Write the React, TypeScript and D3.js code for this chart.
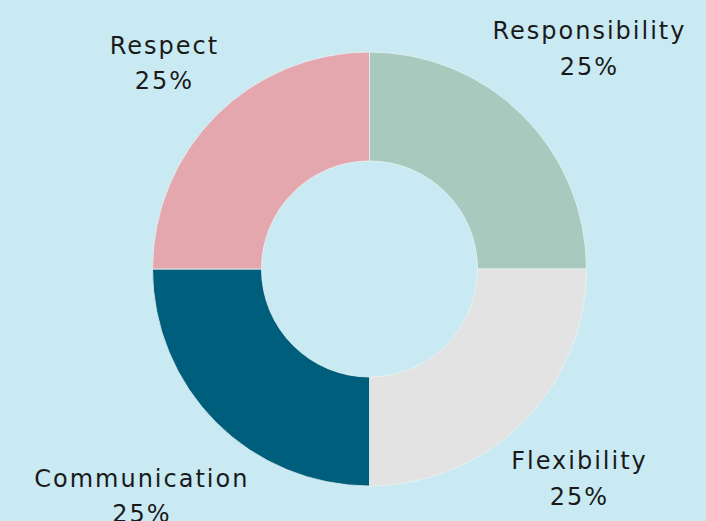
import React from "react";
import * as d3 from "d3";

const categories = ["Responsibility", "Flexibility", "Communication", "Respect"];
const values = [25, 25, 25, 25];
const colors = ["#a8c9be", "#e3e3e3", "#005e7d", "#e3a7ad"];

const W = 706;
const H = 521;
const cx = 369.5;
const cy = 269;
const outerR = 217;
const innerR = 108;
// label distance from center per slice (layout)
const labelR = [311, 297, 322, 290];

export default function App() {
  const pie = d3.pie<number>().sort(null).value((d) => d);
  const arcs = pie(values);
  const arc = d3.arc<d3.PieArcDatum<number>>().innerRadius(innerR).outerRadius(outerR);
  const total = d3.sum(values);
  return (
    <svg
      width={W}
      height={H}
      style={{ position: "absolute", left: 0, top: 0, display: "block" }}
    >
      <rect x={0} y={0} width={W} height={H} fill="#c9eaf3" />
      <g transform={`translate(${cx},${cy})`}>
        {arcs.map((a, i) => (
          <path key={i} d={arc(a) || ""} fill={colors[i]} stroke="#e8f3f3" strokeWidth={0.8} />
        ))}
        {arcs.map((a, i) => {
          const mid = (a.startAngle + a.endAngle) / 2;
          const x = Math.sin(mid) * labelR[i];
          const y = -Math.cos(mid) * labelR[i];
          return (
            <text
              key={i}
              x={x}
              y={y}
              textAnchor="middle"
              fontFamily="'DejaVu Sans', sans-serif"
              fontSize={24}
              letterSpacing={2}
              fill="#1a1a1a"
            >
              <tspan x={x} dy={-10}>{categories[i]}</tspan>
              <tspan x={x} dy={35.5}>{`${Math.round((values[i] / total) * 100)}%`}</tspan>
            </text>
          );
        })}
      </g>
    </svg>
  );
}
